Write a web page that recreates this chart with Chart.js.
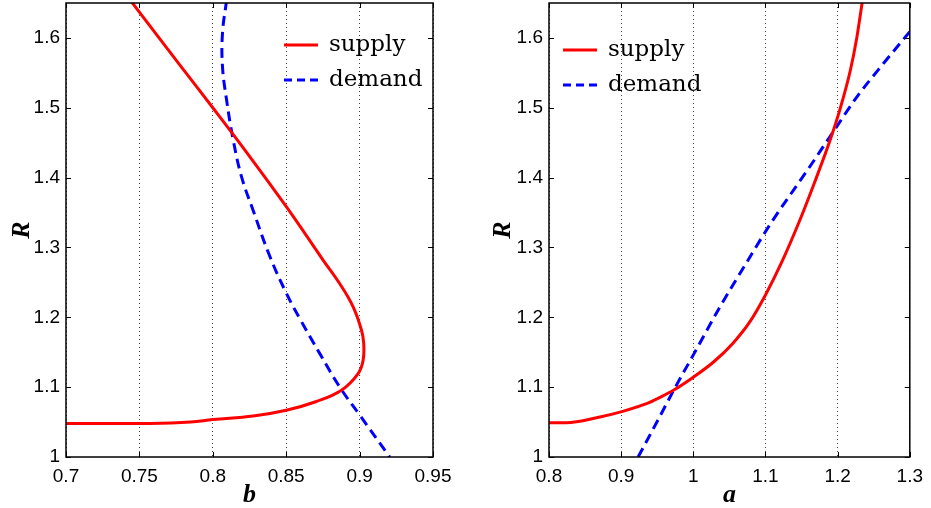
<!DOCTYPE html>
<html>
<head>
<meta charset="utf-8">
<script src="https://cdn.jsdelivr.net/npm/chart.js@4.4.0/dist/chart.umd.min.js"></script>
<style>
    body { margin: 0; background: #fff; }
    #wrap { position: relative; width: 931px; height: 508px; }
    .panel { position: absolute; top: 0; height: 508px; }
    #left { left: 0; width: 465px; }
    #right { left: 465px; width: 466px; }
</style>
</head>
<body>
<div id="wrap">
    <div class="panel" id="left"><canvas id="b-chart"></canvas></div>
    <div class="panel" id="right"><canvas id="a-chart"></canvas></div>
</div>
<script>
// left panel, R against b
const bSupplyX = [0.700, 0.757, 0.785, 0.800, 0.8275, 0.850, 0.8706, 0.8876, 0.899, 0.9024, 0.9028, 0.9013, 0.8956, 0.8865, 0.8751, 0.8502, 0.822, 0.800, 0.7776, 0.7445];
const bSupplyR = [1.048, 1.048, 1.050, 1.0536, 1.0587, 1.067, 1.0795, 1.0956, 1.1195, 1.1385, 1.1625, 1.1815, 1.215, 1.248, 1.282, 1.358, 1.439, 1.500, 1.561, 1.652];
const bDemandX = [0.8094, 0.8066, 0.8066, 0.8094, 0.8139, 0.8196, 0.8275, 0.8389, 0.8502, 0.8593, 0.8729, 0.8865, 0.9001, 0.9205];
const bDemandR = [1.654, 1.607, 1.559, 1.511, 1.454, 1.401, 1.353, 1.287, 1.234, 1.198, 1.148, 1.100, 1.060, 1.000];

// right panel, R against a
const aSupplyX = [0.800, 0.824, 0.869, 0.901, 0.937, 0.951, 0.973, 1.001, 1.028, 1.055, 1.078, 1.100, 1.123, 1.148, 1.168, 1.189, 1.203, 1.2175, 1.2265, 1.2342];
const aSupplyR = [1.049, 1.049, 1.057, 1.065, 1.077, 1.084, 1.096, 1.115, 1.136, 1.163, 1.193, 1.232, 1.280, 1.340, 1.393, 1.452, 1.497, 1.553, 1.600, 1.652];
const aDemandX = [0.9235, 0.951, 0.973, 1.001, 1.037, 1.073, 1.107, 1.159, 1.189, 1.227, 1.264, 1.300];
const aDemandR = [1.000, 1.053, 1.096, 1.148, 1.215, 1.277, 1.334, 1.412, 1.458, 1.516, 1.564, 1.609];

const seriesNames = ['supply', 'demand'];

function pairs(xs, ys) {
    return xs.map((x, i) => ({x: x, y: ys[i]}));
}

// frame, inward ticks and legend drawn over the plot
const framePlugin = {
    id: 'frame',
    afterDraw(chart, args, opts) {
        const {ctx, chartArea: a, scales} = chart;
        ctx.save();
        ctx.strokeStyle = '#000';
        ctx.lineWidth = 1;
        scales.y.ticks.forEach(t => {
            const py = Math.round(scales.y.getPixelForValue(t.value)) + 0.5;
            ctx.beginPath();
            ctx.moveTo(a.left, py); ctx.lineTo(a.left + 5, py);
            ctx.moveTo(a.right, py); ctx.lineTo(a.right - 5, py);
            ctx.stroke();
        });
        scales.x.ticks.forEach(t => {
            const px = Math.round(scales.x.getPixelForValue(t.value)) + 0.5;
            ctx.beginPath();
            ctx.moveTo(px, a.top); ctx.lineTo(px, a.top + 5);
            ctx.moveTo(px, a.bottom); ctx.lineTo(px, a.bottom - 5);
            ctx.stroke();
        });
        ctx.lineWidth = 1.5;
        ctx.strokeRect(a.left, a.top, a.right - a.left, a.bottom - a.top);

        // legend
        chart.data.datasets.forEach((ds, i) => {
            const y = opts.y + i * 35;
            ctx.beginPath();
            ctx.strokeStyle = ds.borderColor;
            ctx.lineWidth = 3;
            ctx.setLineDash(ds.borderDash ? [8, 5] : []);
            ctx.moveTo(opts.x, y);
            ctx.lineTo(opts.x + 34, y);
            ctx.stroke();
            ctx.setLineDash([]);
            ctx.fillStyle = '#000';
            ctx.font = '23px "DejaVu Serif"';
            ctx.textBaseline = 'middle';
            ctx.fillText(ds.label, opts.x + 45, y);
        });
        ctx.restore();
    }
};

function makeChart(el, cfg) {
    return new Chart(el, {
        type: 'scatter',
        data: {
            datasets: [{
                label: seriesNames[0],
                data: cfg.supply,
                showLine: true,
                borderColor: '#ff0000',
                borderWidth: 3,
                pointRadius: 0,
                tension: 0.4,
                cubicInterpolationMode: cfg.mode
            }, {
                label: seriesNames[1],
                data: cfg.demand,
                showLine: true,
                borderColor: '#0000ff',
                borderWidth: 3,
                borderDash: [10, 6],
                pointRadius: 0,
                tension: 0.4,
                cubicInterpolationMode: cfg.mode
            }]
        },
        options: {
            maintainAspectRatio: false,
            responsive: true,
            animation: false,
            layout: {padding: {top: 3, right: cfg.padRight, left: 0, bottom: 0}},
            plugins: {
                legend: {display: false},
                tooltip: {enabled: false},
                frame: cfg.legend
            },
            scales: {
                x: {
                    type: 'linear',
                    min: cfg.xMin,
                    max: cfg.xMax,
                    afterFit: s => { s.height = 51; },
                    ticks: {
                        stepSize: cfg.xStep,
                        padding: 8,
                        color: '#000',
                        font: {family: 'Liberation Sans', size: 19},
                        maxRotation: 0,
                        callback: v => String(Number(v.toFixed(2)))
                    },
                    grid: {color: '#444', lineWidth: 1, drawTicks: false},
                    border: {display: false, dash: [1, 3]},
                    title: {
                        display: true,
                        text: cfg.xTitle,
                        color: '#000',
                        font: {family: 'Liberation Serif', size: 26, style: 'italic', weight: 'bold', lineHeight: 1},
                        padding: {top: 0, bottom: 0}
                    }
                },
                y: {
                    type: 'linear',
                    min: 1,
                    max: 1.65,
                    afterFit: s => {
                        s.width = cfg.yWidth;
                        s.paddingTop = 0;
                        s.paddingBottom = 0;
                    },
                    ticks: {
                        stepSize: 0.1,
                        includeBounds: false,
                        padding: 6,
                        color: '#000',
                        font: {family: 'Liberation Sans', size: 19},
                        callback: v => String(Number(v.toFixed(1)))
                    },
                    grid: {display: false, drawTicks: false},
                    border: {display: false},
                    title: {
                        display: true,
                        text: 'R',
                        color: '#000',
                        font: {family: 'Liberation Serif', size: 26, style: 'italic', weight: 'bold', lineHeight: 1},
                        padding: {top: cfg.titlePad, bottom: 0}
                    }
                }
            }
        },
        plugins: [framePlugin]
    });
}

const bChart = makeChart(document.getElementById('b-chart'), {
    supply: pairs(bSupplyX, bSupplyR),
    demand: pairs(bDemandX, bDemandR),
    xMin: 0.7, xMax: 0.95, xStep: 0.05, xTitle: 'b',
    yWidth: 66, padRight: 32, titlePad: 9, mode: 'default',
    legend: {x: 284, y: 45}
});

const aChart = makeChart(document.getElementById('a-chart'), {
    supply: pairs(aSupplyX, aSupplyR),
    demand: pairs(aDemandX, aDemandR),
    xMin: 0.8, xMax: 1.3, xStep: 0.1, xTitle: 'a',
    yWidth: 84, padRight: 14, titlePad: 25, mode: 'monotone',
    legend: {x: 98, y: 50}
});
</script>
</body>
</html>
